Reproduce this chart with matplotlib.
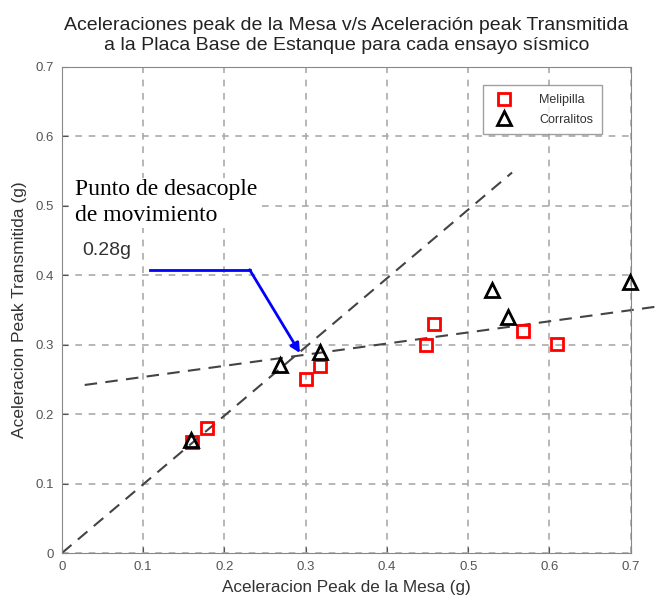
import matplotlib
matplotlib.use("Agg")
import matplotlib.pyplot as plt

# datos (g)
meli_x = [0.16, 0.178, 0.30, 0.317, 0.448, 0.458, 0.567, 0.609]
meli_y = [0.16, 0.180, 0.251, 0.269, 0.300, 0.330, 0.320, 0.301]
corr_x = [0.159, 0.268, 0.317, 0.529, 0.549, 0.699]
corr_y = [0.163, 0.271, 0.289, 0.379, 0.340, 0.390]

# rectas de tendencia (extremos)
fit1_x = [0.0, 0.554]
fit1_y = [0.0, 0.548]
fit2_x = [0.028, 0.739]
fit2_y = [0.242, 0.356]

# flecha azul
arrow_x = [0.108, 0.231]
arrow_y = [0.408, 0.408]
arrow_tip = (0.293, 0.288)

ticks = [0, 0.1, 0.2, 0.3, 0.4, 0.5, 0.6, 0.7]
tick_labels = ["0", "0.1", "0.2", "0.3", "0.4", "0.5", "0.6", "0.7"]

plt.rcParams['font.family'] = ['Liberation Sans', 'DejaVu Sans']

fig = plt.figure(figsize=(6.66, 5.97), dpi=100)
ax = fig.add_axes([0.093, 0.0737, 0.854, 0.8141])

ax.set_xlim(0, 0.7)
ax.set_ylim(0, 0.7)
ax.set_xticks(ticks)
ax.set_yticks(ticks)
ax.set_xticklabels(tick_labels)
ax.set_yticklabels(tick_labels)
ax.tick_params(direction='in', length=4, colors='#555555', labelsize=9.5,
               labelcolor='#555555', pad=6)
ax.grid(True, color='#aaaaaa', linestyle=(0, (4, 4)), linewidth=1.2)
for s in ax.spines.values():
    s.set_color('#888888')

# rectas punteadas
ax.plot(fit1_x, fit1_y, color='#444444', linewidth=1.5, linestyle=(0, (6, 4)), zorder=2)
ax.plot(fit2_x, fit2_y, color='#444444', linewidth=1.5, linestyle=(0, (6, 4)),
        clip_on=False, zorder=2)

ax.plot(meli_x, meli_y, 's', markersize=9, markerfacecolor='none',
        markeredgecolor='red', markeredgewidth=2, label='Melipilla', zorder=3)
ax.plot(corr_x, corr_y, '^', markersize=10, markerfacecolor='none',
        markeredgecolor='black', markeredgewidth=2, label='Corralitos',
        clip_on=False, zorder=3)

# flecha hacia el punto de desacople
ax.plot(arrow_x, arrow_y, color='blue', linewidth=2, zorder=4)
ax.annotate('', xy=arrow_tip, xytext=(arrow_x[1], arrow_y[1]),
            arrowprops=dict(arrowstyle='-|>', color='blue', lw=2,
                            mutation_scale=14, shrinkA=0, shrinkB=0), zorder=4)

ax.text(0.016, 0.538, 'Punto de desacople\nde movimiento', family='Liberation Serif',
        fontsize=17, va='top', ha='left', linespacing=1.3, color='black',
        bbox=dict(facecolor='white', edgecolor='none', pad=1))
ax.text(0.025, 0.436, '0.28g', fontsize=14, va='center', ha='left', color='#333333')

leg = ax.legend(loc='upper right', bbox_to_anchor=(0.96, 0.975), fontsize=9,
                frameon=True, fancybox=False, edgecolor='#888888',
                handletextpad=1.8, borderpad=0.7, labelspacing=0.6)
for t in leg.get_texts():
    t.set_color('#333333')

ax.set_xlabel('Aceleracion Peak de la Mesa (g)', fontsize=12.3, color='#333333', labelpad=5)
ax.set_ylabel('Aceleracion Peak Transmitida (g)', fontsize=12.5, color='#333333', labelpad=6)
ax.set_title('Aceleraciones peak de la Mesa v/s Aceleración peak Transmitida\n'
             'a la Placa Base de Estanque para cada ensayo sísmico',
             fontsize=14, color='#222222', pad=12, linespacing=1.25)

fig.savefig('out.png', dpi=100)
